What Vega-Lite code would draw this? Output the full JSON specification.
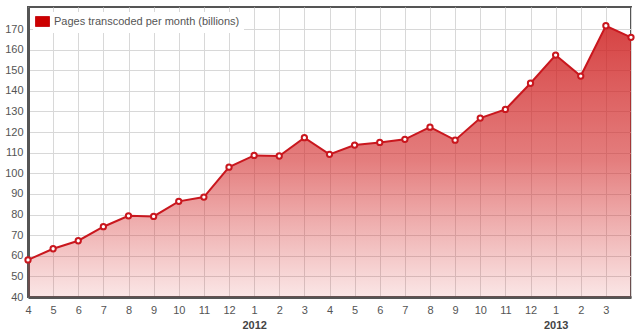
{
  "$schema": "https://vega.github.io/schema/vega-lite/v6.json",
  "width": 603,
  "height": 290,
  "autosize": "none",
  "padding": {"left": 28, "top": 7, "right": 9, "bottom": 37},
  "background": "white",
  "config": {
    "font": "Liberation Sans",
    "view": {"stroke": "#555555", "strokeWidth": 2},
    "axis": {"labelFont": "Liberation Sans", "labelFontSize": 11, "labelColor": "#545454", "ticks": false, "title": null, "gridColor": "#d8d8d8", "gridWidth": 1, "domainColor": "#555555", "domainWidth": 3}
  },
  "data": {
    "values": [
      {"month": "2011-04", "value": 58.0},
      {"month": "2011-05", "value": 63.4},
      {"month": "2011-06", "value": 67.3},
      {"month": "2011-07", "value": 74.1},
      {"month": "2011-08", "value": 79.4},
      {"month": "2011-09", "value": 79.1},
      {"month": "2011-10", "value": 86.4},
      {"month": "2011-11", "value": 88.5},
      {"month": "2011-12", "value": 103.0},
      {"month": "2012-01", "value": 108.7},
      {"month": "2012-02", "value": 108.4},
      {"month": "2012-03", "value": 117.3},
      {"month": "2012-04", "value": 109.2},
      {"month": "2012-05", "value": 113.7},
      {"month": "2012-06", "value": 115.0},
      {"month": "2012-07", "value": 116.5},
      {"month": "2012-08", "value": 122.4},
      {"month": "2012-09", "value": 116.1},
      {"month": "2012-10", "value": 126.8},
      {"month": "2012-11", "value": 131.0},
      {"month": "2012-12", "value": 143.7},
      {"month": "2013-01", "value": 157.4},
      {"month": "2013-02", "value": 147.2},
      {"month": "2013-03", "value": 171.6},
      {"month": "2013-04", "value": 166.0}
    ]
  },
  "encoding": {
    "y": {
      "field": "value",
      "type": "quantitative",
      "scale": {"domain": [40, 180.7], "nice": false, "zero": false},
      "axis": {"values": [40, 50, 60, 70, 80, 90, 100, 110, 120, 130, 140, 150, 160, 170], "labelPadding": 5, "domain": true}
    }
  },
  "layer": [
    {
      "mark": {
        "type": "area",
        "line": false,
        "color": {
          "gradient": "linear",
          "x1": 0, "y1": 0, "x2": 0, "y2": 1,
          "stops": [
            {"offset": 0, "color": "rgba(205,25,25,0.82)"},
            {"offset": 0.5, "color": "rgba(210,40,40,0.6)"},
            {"offset": 1, "color": "rgba(215,50,50,0.12)"}
          ]
        }
      },
      "encoding": {
        "x": {
          "field": "month",
          "type": "ordinal",
          "scale": {"type": "point", "padding": 0},
          "axis": {"orient": "bottom", "labelAngle": 0, "labelPadding": 7, "grid": true, "labelOverlap": false, "labelExpr": "datum.value == '2013-04' ? '' : '' + toNumber(slice(datum.value, 5))"}
        },
        "y2": {"datum": 40}
      }
    },
    {
      "mark": {"type": "line", "strokeWidth": 2},
      "encoding": {
        "x": {"field": "month", "type": "ordinal", "axis": null},
        "stroke": {
          "datum": "Pages transcoded per month (billions)",
          "type": "nominal",
          "scale": {"range": ["#c9171e"]},
          "legend": {
            "title": null,
            "orient": "top-left",
            "offset": 5,
            "padding": 4,
            "fillColor": "white",
            "symbolType": "M-1.4,-1H1.4V1H-1.4Z",
            "symbolSize": 100,
            "labelFont": "Liberation Sans",
            "labelFontSize": 11,
            "labelColor": "#555555",
            "labelOffset": 6,
            "labelLimit": 0,
            "encode": {"symbols": {"update": {"fill": {"value": "#cc0000"}, "stroke": {"value": "#eeb4b4"}, "strokeWidth": {"value": 1}, "opacity": {"value": 1}}}}
          }
        }
      }
    },
    {
      "mark": {"type": "point", "shape": "circle", "filled": true, "fill": "white", "stroke": "#c9171e", "strokeWidth": 2, "size": 28, "opacity": 1},
      "encoding": {
        "x": {"field": "month", "type": "ordinal", "axis": null}
      }
    },
    {
      "mark": {"type": "point", "opacity": 0},
      "encoding": {
        "x": {
          "field": "month",
          "type": "ordinal",
          "axis": {"orient": "bottom", "labelAngle": 0, "labelPadding": 22, "grid": false, "domain": false, "labelOverlap": false, "labelFontWeight": "bold", "labelColor": "#444444", "labelExpr": "slice(datum.value, 5) == '01' ? slice(datum.value, 0, 4) : ''"}
        }
      }
    }
  ],
  "resolve": {"axis": {"x": "independent"}}
}
